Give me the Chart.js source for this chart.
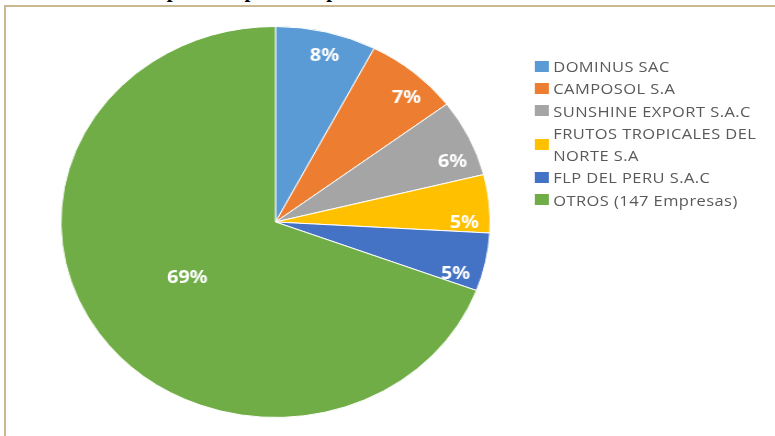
<!DOCTYPE html>
<html>
<head>
<meta charset="utf-8">
<script src="https://cdn.jsdelivr.net/npm/chart.js@4.4.1/dist/chart.umd.min.js"></script>
<style>
  html, body { margin: 0; padding: 0; background: #fff; overflow: hidden; }
  body { width: 775px; height: 436px; position: relative; }
  #frame {
    position: absolute; left: 4px; top: 5px; width: 780px; height: 440px;
    border-top: 2px solid #c8b991; border-left: 2px solid #c8b991;
  }
  #title {
    position: absolute; left: 112px; top: -22px; white-space: nowrap;
    font: bold 21px "Liberation Serif", "DejaVu Serif", serif; color: #000;
  }
  #wrap {
    position: absolute; left: 0; top: 0; width: 706px; height: 436px;
    transform: scaleX(1.0977); transform-origin: 0 0;
  }
  #legend {
    position: absolute; left: 487px; top: 55px;
    font: 15px "Open Sans", sans-serif; letter-spacing: 0.4px; color: #595959;
  }
  .item { display: flex; align-items: center; line-height: 22.3px; }
  .box { width: 13px; height: 11px; margin-right: 4px; flex: none; }
</style>
</head>
<body>
<div id="frame"></div>
<div id="title">Principales empresas exportadoras</div>
<div id="wrap">
  <canvas id="pie" width="706" height="436"></canvas>
  <div id="legend"></div>
</div>
<script>
// companies (legend) and their share of exports, in %
const empresas = [
  "DOMINUS SAC",
  "CAMPOSOL S.A",
  "SUNSHINE EXPORT S.A.C",
  ["FRUTOS TROPICALES DEL", "NORTE S.A"],
  "FLP DEL PERU S.A.C",
  "OTROS (147 Empresas)"
];
const participacion = [7.6, 7.1, 6.4, 4.8, 4.8, 69.3];
const colores = ["#5b9bd5", "#ed7d31", "#a5a5a5", "#ffc000", "#4472c4", "#70ad47"];

// white % labels on the slices (nudged clockwise a bit, like the Excel original)
const pctLabels = {
  id: "pctLabels",
  afterDatasetsDraw(chart) {
    const ctx = chart.ctx;
    const meta = chart.getDatasetMeta(0);
    ctx.save();
    ctx.fillStyle = "#fff";
    ctx.font = "bold 18px 'Noto Sans', sans-serif";
    ctx.textAlign = "center";
    ctx.textBaseline = "middle";
    meta.data.forEach((arc, i) => {
      const p = arc.getProps(["x", "y", "startAngle", "endAngle", "outerRadius"], true);
      let mid = (p.startAngle + p.endAngle) / 2;
      let r = p.outerRadius * 0.5;
      if (participacion[i] < 50) {
        mid += 0.1 * Math.cos(mid);
        r = p.outerRadius * 0.88;
      }
      ctx.fillText(Math.round(participacion[i]) + "%", p.x + Math.cos(mid) * r, p.y + Math.sin(mid) * r);
    });
    ctx.restore();
  }
};

new Chart(document.getElementById("pie"), {
  type: "pie",
  data: {
    labels: empresas,
    datasets: [{
      data: participacion,
      backgroundColor: colores,
      borderColor: "#ffffff",
      borderWidth: 1
    }]
  },
  options: {
    responsive: false,
    animation: false,
    layout: { padding: { top: 26, bottom: 18, left: 55, right: 259 } },
    plugins: { legend: { display: false }, tooltip: { enabled: false } }
  },
  plugins: [pctLabels]
});

document.getElementById("legend").innerHTML = empresas.map((e, i) => {
  const txt = Array.isArray(e) ? e.join("<br>") : e;
  return `<div class="item"><span class="box" style="background:${colores[i]}"></span><span>${txt}</span></div>`;
}).join("");
</script>
</body>
</html>
